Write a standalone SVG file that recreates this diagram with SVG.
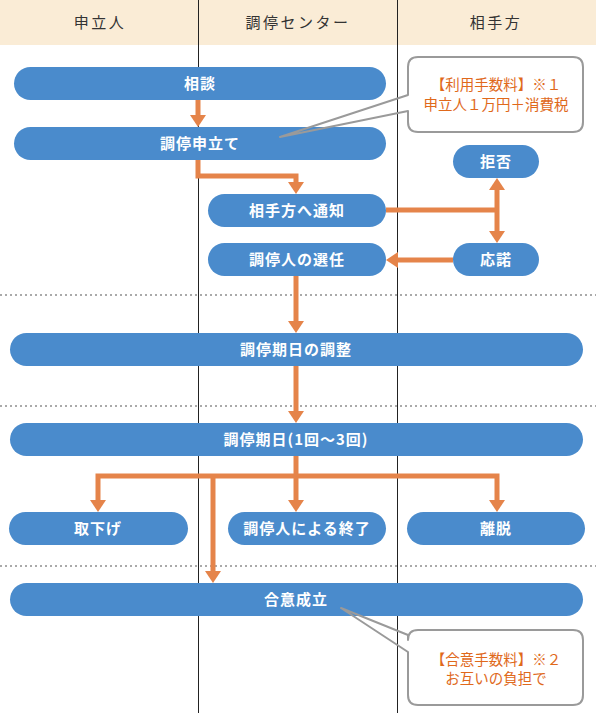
<svg xmlns="http://www.w3.org/2000/svg" width="596" height="713" viewBox="0 0 596 713">
<style>
.hdr{font-family:"Noto Sans CJK JP","Noto Sans",sans-serif;font-size:15px;fill:#333;text-anchor:middle;letter-spacing:2.5px}
.node rect{fill:#4a8bcc}
.node text{font-family:"Noto Sans CJK JP","Noto Sans",sans-serif;font-size:15px;font-weight:bold;fill:#fff;text-anchor:middle;letter-spacing:1px}
.lane{stroke:#222;stroke-width:1}
.dot{stroke:#aaa;stroke-width:2;stroke-dasharray:2 3}
.arr{fill:none;stroke:#e5844a;stroke-width:5;stroke-linejoin:miter}
.call path{fill:none;stroke:#9a9a9a;stroke-width:2;stroke-linejoin:round}
.call text{font-family:"Noto Sans CJK JP","Noto Sans",sans-serif;font-size:14.5px;fill:#e0691b;text-anchor:middle}
</style>
<defs>
<marker id="ah" markerUnits="userSpaceOnUse" markerWidth="12" markerHeight="16" viewBox="0 0 12 16" refX="2" refY="8" orient="auto-start-reverse">
<path d="M0,0 L12,8 L0,16 Z" fill="#e5844a"/>
</marker>
</defs>
<rect x="0" y="0" width="596" height="713" fill="#fff"/>
<rect x="0" y="0" width="596" height="45" fill="#faecd6"/>
<g id="lanes">
<line class="lane" x1="198.5" y1="0" x2="198.5" y2="713"/>
<line class="lane" x1="397.5" y1="0" x2="397.5" y2="713"/>
<line class="dot" x1="0" y1="295" x2="596" y2="295"/>
<line class="dot" x1="0" y1="406" x2="596" y2="406"/>
<line class="dot" x1="0" y1="566" x2="596" y2="566"/>
</g>
<g id="headers">
<text class="hdr" x="100" y="28">申立人</text>
<text class="hdr" x="298" y="28">調停センター</text>
<text class="hdr" x="496" y="28">相手方</text>
</g>
<g id="connectors">
<path class="arr" d="M198,100 V117" marker-end="url(#ah)"/>
<path class="arr" d="M198,160 V176 H296 V184" marker-end="url(#ah)"/>
<path class="arr" d="M386,210 H497"/>
<path class="arr" d="M497,188 V233" marker-start="url(#ah)" marker-end="url(#ah)"/>
<path class="arr" d="M453,260 H396" marker-end="url(#ah)"/>
<path class="arr" d="M296,276 V323" marker-end="url(#ah)"/>
<path class="arr" d="M296,366 V413" marker-end="url(#ah)"/>
<path class="arr" d="M296,456 V502" marker-end="url(#ah)"/>
<path class="arr" d="M296,476 H98 V502" marker-end="url(#ah)"/>
<path class="arr" d="M296,476 H497 V502" marker-end="url(#ah)"/>
<path class="arr" d="M213,476 V573" marker-end="url(#ah)"/>
</g>
<g id="n1" class="node"><rect x="14" y="67" width="372" height="33" rx="16.5"/><text x="200" y="89">相談</text></g>
<g id="n2" class="node"><rect x="14" y="127" width="372" height="33" rx="16.5"/><text x="200" y="149">調停申立て</text></g>
<g id="n3" class="node"><rect x="208" y="194" width="178" height="33" rx="16.5"/><text x="297" y="216">相手方へ通知</text></g>
<g id="n4" class="node"><rect x="208" y="243" width="178" height="33" rx="16.5"/><text x="297" y="265">調停人の選任</text></g>
<g id="n5" class="node"><rect x="453" y="145" width="86" height="33" rx="16.5"/><text x="496" y="167">拒否</text></g>
<g id="n6" class="node"><rect x="453" y="243" width="86" height="33" rx="16.5"/><text x="496" y="265">応諾</text></g>
<g id="n7" class="node"><rect x="10" y="333" width="573" height="33" rx="16.5"/><text x="296" y="355">調停期日の調整</text></g>
<g id="n8" class="node"><rect x="10" y="423" width="573" height="33" rx="16.5"/><text x="296" y="445">調停期日(1回～3回)</text></g>
<g id="n9" class="node"><rect x="9" y="512" width="179" height="33" rx="16.5"/><text x="98" y="534">取下げ</text></g>
<g id="n10" class="node"><rect x="228" y="512" width="158" height="33" rx="16.5"/><text x="307" y="534">調停人による終了</text></g>
<g id="n11" class="node"><rect x="407" y="512" width="178" height="33" rx="16.5"/><text x="496" y="534">離脱</text></g>
<g id="n12" class="node"><rect x="10" y="583" width="573" height="33" rx="16.5"/><text x="296" y="605">合意成立</text></g>
<g id="c1" class="call">
<path d="M418,57 H573 Q583,57 583,67 V122 Q583,132 573,132 H418 Q408,132 408,122 V111 L280,137 L408,95 V67 Q408,57 418,57 Z"/>
<text x="496" y="90">【利用手数料】※１</text>
<text x="496" y="110">申立人１万円＋消費税</text>
</g>
<g id="c2" class="call">
<path d="M418,630 H573 Q583,630 583,640 V695 Q583,705 573,705 H418 Q408,705 408,695 V652 L341,608 L408,635 V640 Q408,630 418,630 Z"/>
<text x="496" y="665">【合意手数料】※２</text>
<text x="496" y="684">お互いの負担で</text>
</g>
</svg>
